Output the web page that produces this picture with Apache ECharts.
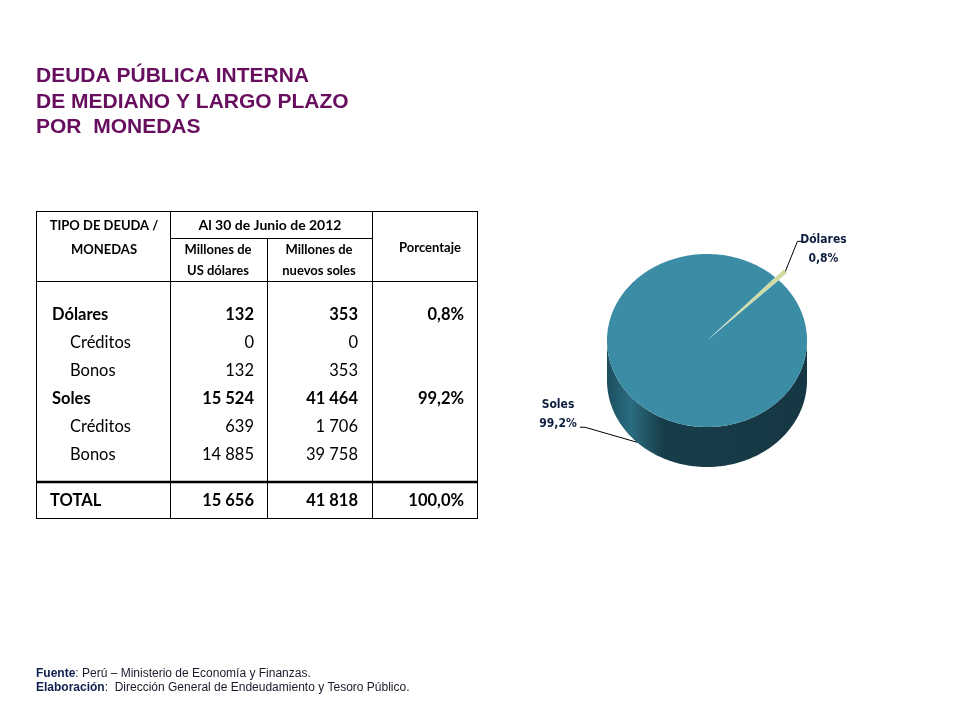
<!DOCTYPE html>
<html><head><meta charset="utf-8">
<script src="https://cdn.jsdelivr.net/npm/echarts@6/dist/echarts.min.js"></script>
<style>html,body{margin:0;padding:0;background:#fff}#c{width:960px;height:720px}</style>
</head><body><div id="c"></div>
<script>
// ---------- data ----------
const titleLines = ['DEUDA PÚBLICA INTERNA', 'DE MEDIANO Y LARGO PLAZO', 'POR  MONEDAS'];
const headerTipo = ['TIPO DE DEUDA /', 'MONEDAS'];
const headerDate = 'Al 30 de Junio de 2012';
const headerUsd = ['Millones de', 'US dólares'];
const headerPen = ['Millones de', 'nuevos soles'];
const headerPct = 'Porcentaje';
const rowLabels = ['Dólares', 'Créditos', 'Bonos', 'Soles', 'Créditos', 'Bonos'];
const rowIsGroup = [true, false, false, true, false, false];
const usdValues = [132, 0, 132, 15524, 639, 14885];
const penValues = [353, 0, 353, 41464, 1706, 39758];
const pctValues = [0.8, null, null, 99.2, null, null];
const totalLabel = 'TOTAL';
const totalUsd = 15656;
const totalPen = 41818;
const totalPct = 100.0;
const pieCategories = ['Dólares', 'Soles'];
const pieShares = [0.8, 99.2];
const footFuente = ['Fuente', ': Perú – Ministerio de Economía y Finanzas.'];
const footElab = ['Elaboración', ':  Dirección General de Endeudamiento y Tesoro Público.'];

// ---------- helpers ----------
const fmtInt = n => String(n).replace(/\B(?=(\d{3})+(?!\d))/g, ' ');
const fmtPct = p => p.toFixed(1).replace('.', ',') + '%';

// ---------- layout constants ----------
const TF = 'Lato, "Open Sans", sans-serif';
const colX = [36, 170, 267, 372, 477];
const tTop = 211, tSplit = 238, tHead = 281, tTotalLine = 482, tBottom = 518;
const rowY0 = 315, rowStep = 28, totalY = 501;
const numRight = [254, 358, 464];

const G = [];
function txt(text, x, y, font, align, fill) {
  G.push({type: 'text', silent: true, style: {text, x, y, font, textAlign: align || 'left',
    textVerticalAlign: 'middle', verticalAlign: 'middle', fill: fill || '#000'}});
}
function line(x1, y1, x2, y2, w) {
  G.push({type: 'line', silent: true, shape: {x1, y1, x2, y2}, style: {stroke: '#000', lineWidth: w || 1}});
}

// title
titleLines.forEach((t, i) => txt(t, 36, [76, 102, 127][i], 'bold 21px "Liberation Sans", Arial, sans-serif', 'left', '#670e5f'));

// table grid
line(colX[0], tTop + .5, colX[4], tTop + .5);
line(colX[0], tBottom + .5, colX[4], tBottom + .5);
[0, 1, 3, 4].forEach(i => line(colX[i] + .5, tTop, colX[i] + .5, tBottom + 1));
line(colX[2] + .5, tSplit, colX[2] + .5, tBottom + 1);
line(colX[1], tSplit + .5, colX[3], tSplit + .5);
line(colX[0], tHead + .5, colX[4], tHead + .5);
line(colX[0], tTotalLine, colX[4], tTotalLine, 2.5);

// header
const HF = 'bold 13px ' + TF;
txt(headerTipo[0], 104, 226, HF, 'center');
txt(headerTipo[1], 104, 250, HF, 'center');
txt(headerDate, 270, 225, 'bold 14px ' + TF, 'center');
txt(headerUsd[0], 218, 250, HF, 'center');
txt(headerUsd[1], 218, 271, HF, 'center');
txt(headerPen[0], 319, 250, HF, 'center');
txt(headerPen[1], 319, 271, HF, 'center');
txt(headerPct, 430, 248, HF, 'center');

// body rows
rowLabels.forEach((lab, i) => {
  const y = rowY0 + i * rowStep;
  const f = (rowIsGroup[i] ? 'bold ' : '') + '16.5px ' + TF;
  txt(lab, rowIsGroup[i] ? 52 : 70, y, f, 'left');
  txt(fmtInt(usdValues[i]), numRight[0], y, f, 'right');
  txt(fmtInt(penValues[i]), numRight[1], y, f, 'right');
  if (pctValues[i] != null) txt(fmtPct(pctValues[i]), numRight[2], y, f, 'right');
});
const BF = 'bold 16.5px ' + TF;
txt(totalLabel, 50, totalY, BF, 'left');
txt(fmtInt(totalUsd), numRight[0], totalY, BF, 'right');
txt(fmtInt(totalPen), numRight[1], totalY, BF, 'right');
txt(fmtPct(totalPct), numRight[2], totalY, BF, 'right');

// footnotes
const FF = '12px "Liberation Sans", Arial, sans-serif';
[footFuente, footElab].forEach((f, i) => {
  G.push({type: 'text', silent: true, style: {
    text: '{b|' + f[0] + '}' + f[1], x: 36, y: [674, 688][i], font: FF, fill: '#1a1a2a',
    textVerticalAlign: 'middle', verticalAlign: 'middle',
    rich: {b: {font: 'bold 12px "Liberation Sans", Arial, sans-serif', fill: '#0f2050'}}
  }});
});

// ---------- 3D-looking pie via custom series ----------
const START = 43;          // degrees clockwise from 12 o'clock
const DEPTH = 0.462;       // side height in radius units (vertical)
const EXPLODE = [0.12, 0]; // radial offset per slice
const sumShares = pieShares.reduce((a, b) => a + b, 0);
let acc = 0;
const sliceData = pieShares.map((v, i) => {
  const s = acc; acc += v;
  return [START + s / sumShares * 360, START + acc / sumShares * 360, i];
});
const topColors = ['#cfdb9f', '#3b8da6'];
const sideColors = ['#a9b97c', null];
const labelLayout = [
  {dx: 12, dy: -30, hx: 5, tx: 21, ty: -11},
  {dx: -52, dy: -15, hx: -5, tx: -22, ty: -32}
];

function renderSlice(params, api) {
  const a0 = api.value(0), a1 = api.value(1), idx = api.value(2);
  const mid = (a0 + a1) / 2, mr = mid * Math.PI / 180;
  const ox = EXPLODE[idx] * Math.sin(mr), oy = EXPLODE[idx] * Math.cos(mr);
  const P = (deg, dz) => {
    const r = deg * Math.PI / 180;
    return api.coord([ox + Math.sin(r), oy + Math.cos(r) - (dz || 0)]);
  };
  const arc = (s, e, dz) => {
    const n = Math.max(2, Math.ceil(Math.abs(e - s)));
    const out = [];
    for (let k = 0; k <= n; k++) out.push(P(s + (e - s) * k / n, dz));
    return out;
  };
  const children = [];
  // side walls (front half: 90..270 deg, repeated per turn)
  [[90, 270], [450, 630]].forEach(([f0, f1]) => {
    const s = Math.max(a0, f0), e = Math.min(a1, f1);
    if (e > s) {
      const pts = arc(s, e, 0).concat(arc(e, s, DEPTH));
      const L = api.coord([-1, 0]), R = api.coord([1, 0]);
      const fill = sideColors[idx] || {type: 'linear', global: true, x: L[0], y: 0, x2: R[0], y2: 0,
        colorStops: [{offset: 0, color: '#1c4f60'}, {offset: 0.12, color: '#2b6c80'},
                     {offset: 0.28, color: '#183d4a'}, {offset: 1, color: '#153743'}]};
      children.push({type: 'polygon', shape: {points: pts}, style: {fill: fill}});
    }
  });
  // top face
  const topPts = [api.coord([ox, oy])].concat(arc(a0, a1, 0));
  children.push({type: 'polygon', shape: {points: topPts}, style: {fill: topColors[idx]}});
  // label with leader line
  const front = Math.cos(mr) < 0;
  const anc = P(mid, front ? DEPTH : 0);
  const lay = labelLayout[idx];
  const elbow = [anc[0] + lay.dx, anc[1] + lay.dy];
  const end = [elbow[0] + lay.hx, elbow[1]];
  children.push({type: 'polyline', shape: {points: [anc, elbow, end]}, style: {stroke: '#000', lineWidth: 1, fill: null}});
  children.push({type: 'text', style: {
    text: pieCategories[idx] + '\n' + fmtPct(pieShares[idx]),
    x: end[0] + lay.tx, y: end[1] + lay.ty, textAlign: 'center', textVerticalAlign: 'top', verticalAlign: 'top',
    font: 'bold 12px "DejaVu Sans Condensed", "DejaVu Sans", sans-serif', lineHeight: 19, fill: '#0c1d3e'
  }});
  return {type: 'group', children};
}

const chart = echarts.init(document.getElementById('c'), null, {renderer: 'canvas'});
chart.setOption({
  animation: false,
  backgroundColor: '#fff',
  grid: {left: 607, width: 200, top: 254, height: 213, show: false},
  xAxis: {type: 'value', min: -1, max: 1, show: false},
  yAxis: {type: 'value', min: -1 - DEPTH, max: 1, show: false},
  series: [{type: 'custom', coordinateSystem: 'cartesian2d', renderItem: renderSlice,
    data: sliceData, clip: false, silent: true}],
  graphic: G
});
</script>
</body></html>
